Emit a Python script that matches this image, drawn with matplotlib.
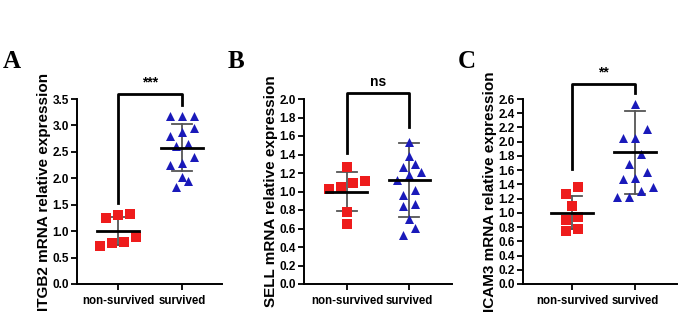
import matplotlib
matplotlib.use("Agg")
import matplotlib.pyplot as plt

plt.rcParams['font.family'] = ['Liberation Sans', 'DejaVu Sans']

groups = ['non-survived', 'survived']

# panel A - ITGB2
itgb2_non = [0.72, 0.78, 0.80, 0.88, 1.24, 1.31, 1.32]
itgb2_surv = [1.83, 1.94, 2.02, 2.25, 2.28, 2.40, 2.61, 2.64, 2.80, 2.88,
              2.96, 3.17, 3.18, 3.18]
itgb2_mean = [1.00, 2.58]
itgb2_sd = [0.27, 0.45]

# panel B - SELL
sell_non = [0.65, 0.78, 1.03, 1.05, 1.09, 1.11, 1.26]
sell_surv = [0.53, 0.61, 0.70, 0.84, 0.87, 0.96, 1.02, 1.12, 1.18, 1.21,
             1.27, 1.30, 1.38, 1.54]
sell_mean = [1.00, 1.12]
sell_sd = [0.21, 0.40]

# panel C - ICAM3
icam3_non = [0.75, 0.78, 0.90, 0.94, 1.10, 1.26, 1.36]
icam3_surv = [1.22, 1.22, 1.31, 1.36, 1.48, 1.49, 1.58, 1.69, 1.83, 2.05,
              2.05, 2.18, 2.53]
icam3_mean = [1.00, 1.85]
icam3_sd = [0.23, 0.58]

RED = '#ee1c1c'
BLUE = '#1a1aba'


def swarm_offsets(values, thresh, step):
    """group close values into rows and centre each row around the category"""
    vals = sorted(values)
    rows = []
    for v in vals:
        if rows and v - rows[-1][0] <= thresh:
            rows[-1].append(v)
        else:
            rows.append([v])
    xs, ys = [], []
    for row in rows:
        n = len(row)
        for i, v in enumerate(row):
            xs.append((i - (n - 1) / 2) * step)
            ys.append(v)
    return xs, ys


def draw_panel(fig, rect, xlim, ymax, ystep, non, surv, mean, sd,
               ylabel, bracket, star, letter, letter_x):
    ax = fig.add_axes(rect)
    ax.set_xlim(*xlim)
    ax.set_ylim(0, ymax)
    fig_h_px = fig.get_figheight() * fig.dpi
    ppu = rect[3] * fig_h_px / ymax
    thresh = 10.0 / ppu

    for i, (vals, col, mk) in enumerate([(non, RED, 's'), (surv, BLUE, '^')]):
        xs, ys = swarm_offsets(vals, thresh, 0.19)
        ax.scatter([i + x for x in xs], ys, marker=mk, s=42, color=col,
                   linewidths=0, zorder=3)
        m, s = mean[i], sd[i]
        ax.plot([i, i], [m - s, m + s], color='#555555', lw=1.3, zorder=2)
        for y in (m - s, m + s):
            ax.plot([i - 0.16, i + 0.16], [y, y], color='#555555', lw=1.3,
                    zorder=2)
        ax.plot([i - 0.33, i + 0.33], [m, m], color='black', lw=2.0, zorder=4)

    yl, ytop, yr = bracket
    ax.plot([0, 0, 1, 1], [yl, ytop, ytop, yr], color='black', lw=2.0,
            clip_on=False)
    ax.text(0.5, ytop + 0.025 * ymax, star, ha='center', va='bottom',
            fontsize=10, fontweight='bold')

    ax.spines['top'].set_visible(False)
    ax.spines['right'].set_visible(False)
    for sp in ('left', 'bottom'):
        ax.spines[sp].set_linewidth(1.4)
    ax.set_xticks([0, 1])
    ax.set_xticklabels(groups, fontsize=8.3, fontweight='bold')
    n = int(round(ymax / ystep))
    ax.set_yticks([k * ystep for k in range(n + 1)])
    ax.set_yticklabels([f'{k * ystep:.1f}' for k in range(n + 1)],
                       fontsize=8.5, fontweight='bold')
    ax.tick_params(length=4, width=1.3, pad=2)
    ax.tick_params(axis='x', pad=4)
    ax.set_ylabel(ylabel, fontsize=11, fontweight='bold', labelpad=1)

    fig.text(letter_x, 1 - 68 / 315, letter, fontsize=18, fontweight='bold',
             family='Liberation Serif', va='baseline', ha='left')
    return ax


fig = plt.figure(figsize=(6.85, 3.15), dpi=100)
W, H = 685, 315

def box(l, r):
    return [l / W, 1 - 284 / H, (r - l) / W, (284 - 99) / H]

draw_panel(fig, box(77, 222), (-0.64, 1.62), 3.5, 0.5,
           itgb2_non, itgb2_surv, itgb2_mean, itgb2_sd,
           'ITGB2 mRNA relative expression', (1.53, 3.59, 3.39), '***',
           'A', 3 / W)
draw_panel(fig, box(304, 452), (-0.69, 1.69), 2.0, 0.2,
           sell_non, sell_surv, sell_mean, sell_sd,
           'SELL mRNA relative expression', (1.42, 2.06, 1.70), 'ns',
           'B', 228 / W)
draw_panel(fig, box(523, 677), (-0.78, 1.67), 2.6, 0.2,
           icam3_non, icam3_surv, icam3_mean, icam3_sd,
           'ICAM3 mRNA relative expression', (1.62, 2.81, 2.69), '**',
           'C', 458 / W)

fig.savefig('out.png', dpi=100)
